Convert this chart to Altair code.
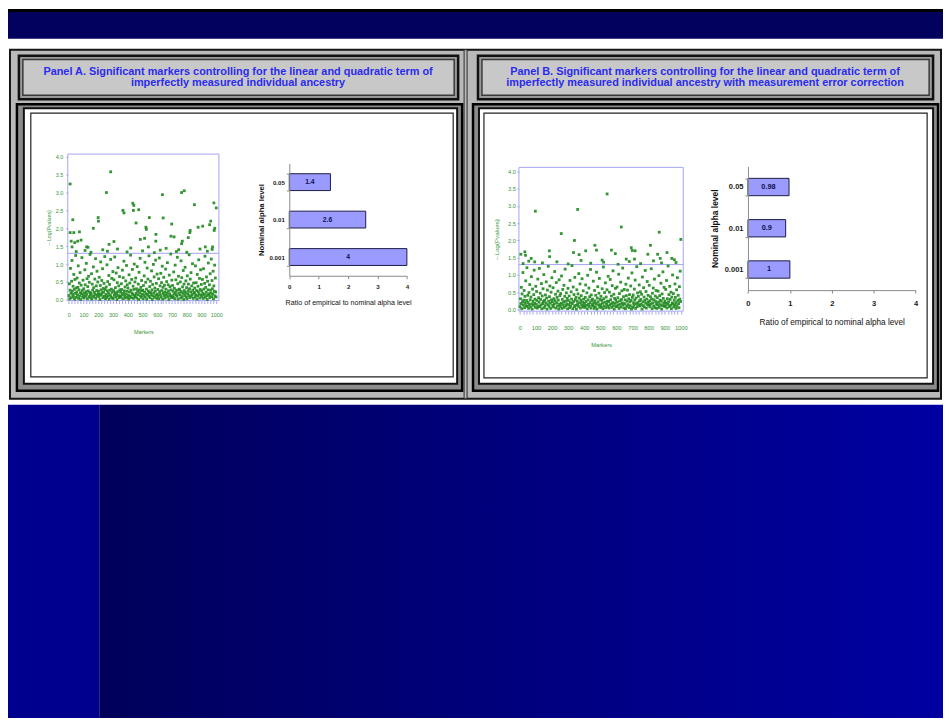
import altair as alt
import pandas as pd

# ---------------- canvas ----------------
W, H = 943, 713          # whole chart (page has an 8px margin)
OFF = 8                  # reference-image pixel -> chart pixel
FONT = "Liberation Sans"

# ---------------- data ----------------
alpha_levels = ["0.05", "0.01", "0.001"]
ratio_a = [1.4, 2.6, 4.0]
ratio_a_text = ["1.4", "2.6", "4"]
ratio_b = [0.98, 0.9, 1.0]
ratio_b_text = ["0.98", "0.9", "1"]
ratio_ticks = [0, 1, 2, 3, 4]

marker_ticks = list(range(0, 1001, 20))
logp_ticks = [0.0, 0.5, 1.0, 1.5, 2.0, 2.5, 3.0, 3.5, 4.0]
threshold = 1.301  # -log10(0.05)

# Panel A: markers above the 0.05 line (marker index, -log10 p)
sig_a_marker = [9, 27, 9, 34, 16, 40, 22, 60, 72, 83, 121, 130, 166, 199, 201, 255, 284, 273, 306,
                367, 374, 434, 441, 438, 456, 474, 485, 514, 523, 526, 546, 590, 591, 540, 635, 640,
                698, 693, 714, 765, 783, 765, 770, 821, 823, 810, 852, 877, 908, 926, 955, 962, 975,
                972, 984, 986, 1000, 990, 50, 110, 150, 230, 262, 330, 395, 420, 500, 580, 620, 660,
                730, 745, 800, 890, 940]
sig_a_value = [3.24, 2.24, 1.88, 1.88, 1.64, 1.60, 1.48, 1.64, 1.90, 1.67, 1.48, 1.47, 2.00, 2.30,
               2.20, 3.00, 3.58, 1.55, 1.63, 2.50, 2.43, 2.70, 2.64, 2.50, 2.15, 2.52, 1.69, 1.72,
               2.03, 1.97, 2.30, 1.64, 1.83, 1.48, 2.94, 2.29, 2.12, 1.78, 1.76, 3.00, 3.05, 1.57,
               1.64, 1.88, 1.94, 1.74, 2.66, 2.03, 2.06, 1.48, 2.10, 2.20, 1.48, 1.41, 2.71, 1.94,
               2.57, 2.00, 1.35, 1.38, 1.33, 1.40, 1.36, 1.42, 1.34, 1.45, 1.37, 1.32, 1.39, 1.44,
               1.35, 1.40, 1.33, 1.42, 1.36]
# Panel A: the dense cloud below the line, -log10 p in hundredths, in marker order
cloud_a = [
    12, 45, 3, 27, 88, 19, 6, 52, 110, 24, 15, 38, 9, 71, 29, 2, 57, 18, 124, 33,
    7, 22, 61, 14, 35, 95, 4, 28, 47, 11, 76, 20, 1, 41, 17, 118, 26, 8, 55, 13,
    31, 5, 19, 84, 42, 10, 23, 102, 16, 59, 3, 37, 25, 66, 9, 49, 21, 127, 14, 6,
    18, 73, 2, 44, 27, 11, 92, 34, 8, 21, 58, 15, 115, 4, 39, 26, 80, 12, 50, 17,
    24, 9, 63, 16, 1, 40, 106, 28, 13, 54, 20, 87, 6, 32, 22, 46, 10, 121, 29, 3,
    15, 36, 7, 98, 25, 51, 11, 19, 68, 2, 43, 27, 14, 113, 8, 30, 60, 21, 5, 79,
    4, 26, 56, 13, 120, 20, 34, 9, 75, 17, 1, 48, 23, 90, 12, 39, 6, 65, 28, 10,
    21, 8, 45, 29, 14, 83, 3, 62, 18, 108, 25, 11, 36, 5, 53, 16, 96, 24, 42, 7,
    33, 13, 2, 70, 22, 47, 10, 125, 27, 6, 57, 19, 85, 15, 38, 4, 29, 100, 12, 50,
    9, 61, 18, 31, 5, 93, 24, 14, 44, 1, 77, 28, 20, 116, 11, 35, 7, 54, 26, 16,
    27, 3, 40, 12, 67, 22, 105, 8, 49, 17, 30, 2, 89, 15, 58, 25, 10, 123, 21, 37,
    6, 52, 20, 14, 81, 28, 1, 43, 11, 99, 19, 64, 7, 33, 24, 111, 13, 46, 4, 72,
    16, 29, 10, 59, 3, 117, 23, 39, 15, 74, 8, 48, 26, 94, 2, 35, 18, 63, 12, 41,
    22, 5, 86, 30, 13, 51, 19, 104, 9, 42, 25, 1, 69, 17, 37, 11, 128, 28, 6, 55,
    11, 40, 24, 7, 78, 16, 32, 3, 97, 21, 56, 14, 27, 10, 119, 45, 2, 66, 19, 30,
    28, 14, 50, 5, 109, 23, 62, 9, 36, 18, 82, 1, 44, 26, 12, 91, 20, 53, 8, 34,
    3, 67, 17, 25, 44, 12, 126, 31, 6, 58, 22, 76, 10, 39, 15, 101, 27, 4, 47, 20,
    19, 33, 8, 95, 14, 48, 26, 2, 71, 11, 38, 23, 112, 16, 60, 5, 29, 84, 13, 43,
    25, 10, 57, 18, 4, 87, 30, 15, 46, 122, 7, 35, 21, 64, 12, 1, 52, 28, 103, 17,
    13, 42, 6, 73, 27, 19, 114, 9, 54, 31, 16, 80, 3, 39, 24, 97, 11, 61, 22, 8,
]

# Panel B: markers above the 0.05 line
sig_b_marker = [6, 31, 35, 70, 96, 92, 183, 185, 257, 339, 333, 359, 368, 409, 466, 476, 511, 542,
                569, 593, 630, 661, 692, 698, 716, 712, 811, 795, 866, 856, 872, 914, 944, 970,
                1000, 20, 55, 140, 230, 300, 380, 440, 520, 610, 680, 750, 830, 880, 960]
sig_b_value = [1.60, 1.67, 1.57, 1.48, 2.85, 1.38, 1.70, 1.53, 2.20, 2.00, 1.65, 2.90, 1.59, 1.70,
               1.86, 1.72, 1.43, 3.35, 1.72, 1.62, 2.39, 1.46, 1.79, 1.71, 1.70, 1.46, 1.86, 1.60,
               2.24, 1.60, 1.48, 1.65, 1.48, 1.36, 2.03, 1.33, 1.40, 1.35, 1.38, 1.32, 1.42, 1.34,
               1.37, 1.31, 1.39, 1.33, 1.41, 1.35, 1.44]
cloud_b = [
    8, 31, 17, 64, 2, 45, 22, 107, 13, 27, 55, 5, 38, 19, 83, 11, 26, 121, 9, 41,
    20, 3, 49, 14, 72, 28, 7, 36, 95, 16, 1, 59, 24, 12, 43, 114, 18, 30, 6, 67,
    15, 52, 26, 4, 88, 10, 34, 21, 119, 8, 47, 29, 13, 75, 2, 39, 17, 60, 23, 101,
    5, 27, 11, 42, 19, 80, 33, 1, 56, 14, 125, 24, 9, 37, 68, 18, 3, 50, 28, 92,
    22, 12, 63, 7, 31, 16, 110, 25, 44, 4, 78, 19, 35, 10, 53, 27, 1, 86, 15, 40,
    9, 46, 18, 97, 3, 29, 58, 13, 21, 70, 6, 38, 117, 24, 11, 48, 16, 32, 2, 61,
    26, 14, 39, 5, 84, 20, 10, 51, 30, 127, 17, 2, 65, 23, 43, 8, 93, 28, 12, 35,
    1, 57, 24, 16, 45, 9, 104, 33, 19, 74, 4, 27, 40, 13, 89, 21, 7, 54, 30, 11,
    18, 6, 35, 71, 23, 12, 48, 2, 99, 28, 15, 62, 9, 37, 20, 116, 4, 42, 26, 14,
    30, 11, 82, 19, 3, 55, 25, 8, 41, 17, 108, 1, 33, 66, 22, 13, 47, 90, 6, 29,
    14, 38, 7, 26, 60, 18, 2, 123, 31, 10, 49, 21, 77, 5, 36, 15, 57, 24, 9, 96,
    23, 4, 50, 13, 87, 28, 16, 39, 6, 69, 20, 112, 11, 44, 1, 32, 18, 61, 27, 8,
    10, 65, 21, 34, 12, 102, 3, 46, 25, 15, 79, 7, 29, 54, 19, 120, 13, 37, 4, 58,
    17, 28, 2, 73, 40, 9, 24, 56, 14, 91, 31, 5, 43, 22, 11, 68, 26, 1, 106, 35,
    6, 42, 19, 12, 59, 27, 85, 3, 33, 17, 124, 8, 48, 20, 38, 13, 71, 25, 10, 51,
    29, 15, 44, 1, 94, 22, 11, 63, 36, 7, 26, 113, 18, 52, 4, 30, 81, 14, 41, 21,
    12, 70, 25, 8, 37, 16, 118, 30, 2, 47, 19, 62, 10, 28, 88, 5, 39, 23, 55, 15,
    3, 34, 13, 53, 21, 98, 6, 40, 27, 14, 76, 24, 1, 45, 11, 109, 32, 18, 64, 9,
    24, 10, 58, 18, 84, 4, 31, 15, 126, 22, 43, 8, 67, 29, 12, 50, 2, 36, 19, 100,
    16, 46, 7, 27, 13, 74, 35, 20, 3, 57, 11, 92, 26, 41, 17, 5, 66, 30, 111, 23,
]

title_a = ["Panel A. Significant markers controlling for the linear and quadratic term of",
           "imperfectly measured individual ancestry"]
title_b = ["Panel B. Significant markers controlling for the linear and quadratic term of",
           "imperfectly measured individual ancestry with measurement error correction"]

# ---------------- styles ----------------
GREEN_TXT = "#3a963a"
GREEN_PT = "#1f8a1f"
LAV = "#a4a4f4"
BAR_FILL = "#9a9aff"


def P(v):
    return v - OFF


# slide decoration (reference-image pixel boxes)
frames = [
    (6, 6, 951, 721, "#000000", "transparent", 0),
    (8, 9, 951, 721, "#ffffff", "transparent", 0),
    (8, 9, 951, 36, "#02025e", "transparent", 0),
    (10, 47, 949, 399, "#b9b9b9", "#151515", 2),
    (468, 47, 471, 399, "#b9b9b9", "#2a2a2a", 1),
    (19, 53, 462, 97, "#9a9a9a", "#111111", 2.5),
    (23, 57, 458, 93, "#c8c8c8", "#3a3a3a", 1.5),
    (482, 53, 941, 97, "#9a9a9a", "#111111", 2.5),
    (486, 57, 937, 93, "#c8c8c8", "#3a3a3a", 1.5),
    (17, 102, 466, 391, "#8c8c8c", "#000000", 2.5),
    (24, 106, 461, 384, "#ffffff", "#111111", 2),
    (31, 111, 457, 377, "#ffffff", "#222222", 1.2),
    (477, 102, 946, 391, "#8c8c8c", "#000000", 2.5),
    (483, 106, 941, 384, "#ffffff", "#111111", 2),
    (488, 111, 935, 378, "#ffffff", "#222222", 1.2),
    (8, 405, 100, 721, "#00008e", "transparent", 0),
]
deco_df = pd.DataFrame(frames, columns=["x0", "y0", "x1", "y1", "fill", "stroke", "sw"])
for c in ["x0", "x1", "y0", "y1"]:
    deco_df[c] = deco_df[c] - OFF

deco = alt.Chart(deco_df).mark_rect().encode(
    x=alt.X("x0:Q", scale=None, axis=None), x2="x1:Q",
    y=alt.Y("y0:Q", scale=None, axis=None), y2="y1:Q",
    fill=alt.Fill("fill:N", scale=None),
    stroke=alt.Stroke("stroke:N", scale=None),
    strokeWidth=alt.StrokeWidth("sw:Q", scale=None),
)

grad = alt.Chart(pd.DataFrame({"k": [0]})).mark_rect(
    fill=alt.LinearGradient(
        gradient="linear",
        stops=[alt.GradientStop(color="#00005a", offset=0),
               alt.GradientStop(color="#0000a2", offset=1)],
        x1=0, x2=1, y1=0, y2=0,
    )
).encode(x=alt.value(P(100)), x2=alt.value(W), y=alt.value(P(405)), y2=alt.value(H))

title_df = pd.DataFrame({
    "x": [P(240), P(240), P(711), P(711)],
    "y": [P(70), P(81), P(69.5), P(80.5)],
    "t": title_a + title_b,
})
titles = alt.Chart(title_df).mark_text(
    font=FONT, fontSize=11, fontWeight="bold", color="#2b2bf0", align="center", baseline="middle"
).encode(x=alt.X("x:Q", scale=None, axis=None), y=alt.Y("y:Q", scale=None, axis=None), text="t:N")


def scatter_layers(sig_m, sig_v, cloud, box, xdom, ydom, s):
    """Flat layers, each with an identical scale spec."""
    x0, y0, x1, y1 = box
    n = len(cloud)
    pts = pd.DataFrame({
        "marker": [(i + 0.5) * 1000 / n for i in range(n)] + list(sig_m),
        "logp": [c / 100 for c in cloud] + list(sig_v),
    })

    def xs():
        return alt.Scale(domain=xdom, range=[P(x0), P(x1)], nice=False, zero=False)

    def ys():
        return alt.Scale(domain=ydom, range=[P(y1), P(y0)], nice=False, zero=False)

    fr = pd.DataFrame({"a": [xdom[0]], "b": [xdom[1]], "c": [ydom[0]], "d": [ydom[1]], "t": [threshold]})
    frame = alt.Chart(fr).mark_rect(fillOpacity=0, stroke=LAV, strokeWidth=1).encode(
        x=alt.X("a:Q", scale=xs(), axis=None), x2="b:Q",
        y=alt.Y("c:Q", scale=ys(), axis=None), y2="d:Q")
    thr = alt.Chart(fr).mark_rule(color=LAV, strokeWidth=1).encode(
        x=alt.X("a:Q", scale=xs(), axis=None), x2="b:Q",
        y=alt.Y("t:Q", scale=ys(), axis=None))
    dots = alt.Chart(pts).mark_square(size=8, color=GREEN_PT, opacity=0.9).encode(
        x=alt.X("marker:Q", scale=xs(), axis=alt.Axis(
            orient="bottom", offset=P(y1) - H, values=marker_ticks, zindex=2,
            labelExpr="datum.value % 100 === 0 ? datum.label : ''", format="d",
            labelOverlap=False, labelFlush=False, domain=False, grid=False,
            tickColor=LAV, tickSize=3, labelPadding=s["xlp"], labelFontSize=s["fs"],
            labelColor=GREEN_TXT, title="Markers", titleColor=GREEN_TXT,
            titleFontSize=s["fs"], titleFontWeight="normal", titlePadding=s["xtp"])),
        y=alt.Y("logp:Q", scale=ys(), axis=alt.Axis(
            orient="left", offset=-P(x0), values=logp_ticks, format=".1f", zindex=2,
            labelOverlap=False, labelFlush=False, domain=False, grid=False,
            tickColor=LAV, tickSize=2, labelPadding=s["ylp"], labelFontSize=s["fs"],
            labelColor=GREEN_TXT, title="\u2013 Log(Pvalues)", titleColor=GREEN_TXT,
            titleFontSize=s["yfs"], titleFontWeight="normal", titlePadding=s["ytp"])),
    )
    return [frame, thr, dots]


def bar_layers(vals, texts, xr, yr, pad, s):
    """Flat layers, each with an identical scale spec."""
    df = pd.DataFrame({"alpha": alpha_levels, "ratio": vals, "txt": texts})

    def xs():
        return alt.Scale(domain=[0, 4], range=[P(xr[0]), P(xr[1])], nice=False, zero=True)

    def ys():
        return alt.Scale(domain=alpha_levels, range=[P(yr[0]), P(yr[1])],
                         paddingInner=pad, paddingOuter=pad / 2)

    base = alt.Chart(df)
    bars = base.mark_bar(fill=BAR_FILL, stroke="#1c1c44", strokeWidth=1).encode(
        x=alt.X("ratio:Q", scale=xs(), axis=alt.Axis(
            orient="bottom", offset=P(yr[1]) - H, values=ratio_ticks, format="d", zindex=2,
            labelFlush=False, grid=False, domainColor="#8a8a8a", tickColor="#8a8a8a",
            tickSize=3, labelPadding=s["xlp"], labelFontSize=s["lfs"], labelFontWeight="bold",
            labelColor="#1a1a1a", title="Ratio of empirical to nominal alpha level",
            titleFontSize=s["xtfs"], titleFontWeight="normal", titleColor="#111111",
            titlePadding=s["xtp"])),
        y=alt.Y("alpha:N", scale=ys(), axis=alt.Axis(
            orient="left", offset=-P(xr[0]), tickBand="extent", grid=False, zindex=2,
            domainColor="#8a8a8a", tickColor="#8a8a8a", tickSize=3, labelPadding=s["ylp"],
            labelFontSize=s["lfs"], labelFontWeight="bold", labelColor="#1a1a1a",
            title="Nominal alpha level", titleFontSize=s["ytfs"], titleFontWeight="bold",
            titleColor="#111111", titlePadding=s["ytp"])),
    )
    txt = base.transform_calculate(mid="datum.ratio / 2").mark_text(
        font=FONT, fontSize=s["bfs"], fontWeight="bold", color="#10104a",
        align="center", baseline="middle"
    ).encode(
        x=alt.X("mid:Q", scale=xs(), axis=None),
        y=alt.Y("alpha:N", scale=ys(), axis=None),
        text="txt:N",
    )
    return [bars, txt]


scatter_a = scatter_layers(
    sig_a_marker, sig_a_value, cloud_a,
    box=(68.3, 152.3, 220.7, 300), xdom=[-7, 1018], ydom=[-0.02, 4.075],
    s={"fs": 5.5, "yfs": 5.3, "xlp": 9, "xtp": 12, "ylp": 3, "ytp": 4},
)
scatter_b = scatter_layers(
    sig_b_marker, sig_b_value, cloud_b,
    box=(523.3, 165.7, 689, 310.7), xdom=[-6, 1015], ydom=[-0.05, 4.12],
    s={"fs": 5.8, "yfs": 6.2, "xlp": 11, "xtp": 11, "ylp": 1.5, "ytp": 8},
)
bar_a = bar_layers(
    ratio_a, ratio_a_text, xr=(291.7, 410.3), yr=(161.7, 275), pad=0.55,
    s={"lfs": 6.2, "xtfs": 7.2, "ytfs": 7.8, "bfs": 6.8, "xlp": 5, "xtp": 9, "ylp": 2, "ytp": 4},
)
bar_b = bar_layers(
    ratio_b, ratio_b_text, xr=(754.3, 923.3), yr=(164.7, 289.5), pad=0.58,
    s={"lfs": 7.6, "xtfs": 8.3, "ytfs": 8.5, "bfs": 7.4, "xlp": 6, "xtp": 11, "ylp": 2, "ytp": 5},
)

chart = alt.layer(
    deco, grad, titles, *scatter_a, *bar_a, *scatter_b, *bar_b
).resolve_scale(
    x="independent", y="independent"
).properties(
    width=W, height=H, autosize=alt.AutoSizeParams(type="none"), padding=0, background="white"
).configure_view(stroke=None).configure_axis(labelFont=FONT, titleFont=FONT)

chart.save("out.html", embed_options={"renderer": "svg", "actions": False})
